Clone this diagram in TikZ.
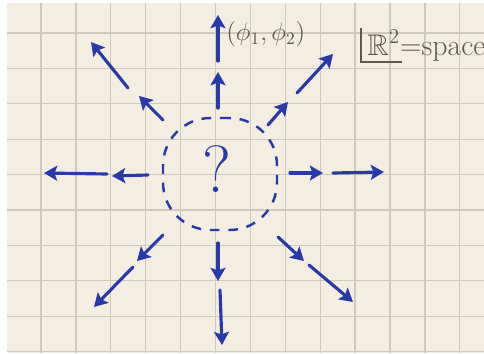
\documentclass[tikz,border=0pt]{standalone}
\usepackage{amssymb}
\usepackage{xcolor}
\usepackage{tikz}
\usetikzlibrary{positioning, arrows.meta, shapes}

\definecolor{paper}{RGB}{244,238,226}
\definecolor{gridline}{RGB}{208,200,186}
\definecolor{ink}{RGB}{40,58,170}
\definecolor{pencil}{RGB}{96,88,74}

\begin{document}
\begin{tikzpicture}[x=0.02cm, y=-0.02cm,
    pen/.style={ink, line width=1.8pt, line cap=round, -{Stealth[length=7.5pt, width=8.5pt, inset=1.5pt]}},
    blobline/.style={draw=ink, line width=1.4pt, dash pattern=on 5.5pt off 5pt},
    squares/.style={gridline, line width=0.7pt},
    note/.style={pencil, inner sep=0pt}]
      \useasboundingbox (0,0) rectangle (484,353);
      \clip (0,0) rectangle (484,353);

      % Paper
      \fill[white] (0,0) rectangle (484,353);
      \fill[paper] (7,3) rectangle (484,353);
      \foreach \k in {0,...,12}
        \draw[squares] (41+34.9*\k,3) -- (41+34.9*\k,353);
      \foreach \k in {0,...,9}
        \draw[squares] (7,33+35.4*\k) -- (484,33+35.4*\k);

      % Unknown region
      \node[blobline, rectangle, rounded corners=0.95cm, minimum width=2.28cm, minimum height=2.24cm] (blob) at (220,174) {};
      \node[ink, font=\fontsize{38}{38}\selectfont] (qm) at (217,169) {?};

      % Arrow end points
      \coordinate (n1) at (218,108); \coordinate (n2) at (218,72);
      \coordinate (n3) at (218,61);  \coordinate (n4) at (218,15);
      \coordinate (ne1) at (268,125); \coordinate (ne2) at (288,102);
      \coordinate (ne3) at (297,93);  \coordinate (ne4) at (333,54);
      \coordinate (e1) at (290,173); \coordinate (e2) at (323,173);
      \coordinate (e3) at (333,173); \coordinate (e4) at (384,172);
      \coordinate (se1) at (278,237); \coordinate (se2) at (304,261);
      \coordinate (se3) at (309,265); \coordinate (se4) at (353,302);
      \coordinate (s1) at (218,243); \coordinate (s2) at (218,281);
      \coordinate (s3) at (220,290); \coordinate (s4) at (222,345);
      \coordinate (sw1) at (163,235); \coordinate (sw2) at (137,261);
      \coordinate (sw3) at (133,267); \coordinate (sw4) at (94,307);
      \coordinate (w1) at (148,175); \coordinate (w2) at (112,176);
      \coordinate (w3) at (107,174); \coordinate (w4) at (44,173);
      \coordinate (nw1) at (163,120); \coordinate (nw2) at (139,96);
      \coordinate (nw3) at (128,88);  \coordinate (nw4) at (91,42);

      % Arrows
      \draw[pen] (n1) -- (n2);   \draw[pen] (n3) -- (n4);
      \draw[pen] (ne1) -- (ne2); \draw[pen] (ne3) -- (ne4);
      \draw[pen] (e1) -- (e2);   \draw[pen] (e3) -- (e4);
      \draw[pen] (se1) -- (se2); \draw[pen] (se3) -- (se4);
      \draw[pen] (s1) -- (s2);   \draw[pen] (s3) -- (s4);
      \draw[pen] (sw1) -- (sw2); \draw[pen] (sw3) -- (sw4);
      \draw[pen] (w1) -- (w2);   \draw[pen] (w3) -- (w4);
      \draw[pen] (nw1) -- (nw2); \draw[pen] (nw3) -- (nw4);

      % Labels
      \node[note, font=\fontsize{14}{14}\selectfont, anchor=west] (pair) at (226,34) {$(\phi_1,\phi_2)$};
      \node[note, font=\fontsize{17}{17}\selectfont, anchor=base west] (space) at (367,55) {$\mathbb{R}^2$=space};
      \draw[pencil, line width=1pt] (361,28) -- (361,62) -- (402,62);
    \end{tikzpicture}
\end{document}
